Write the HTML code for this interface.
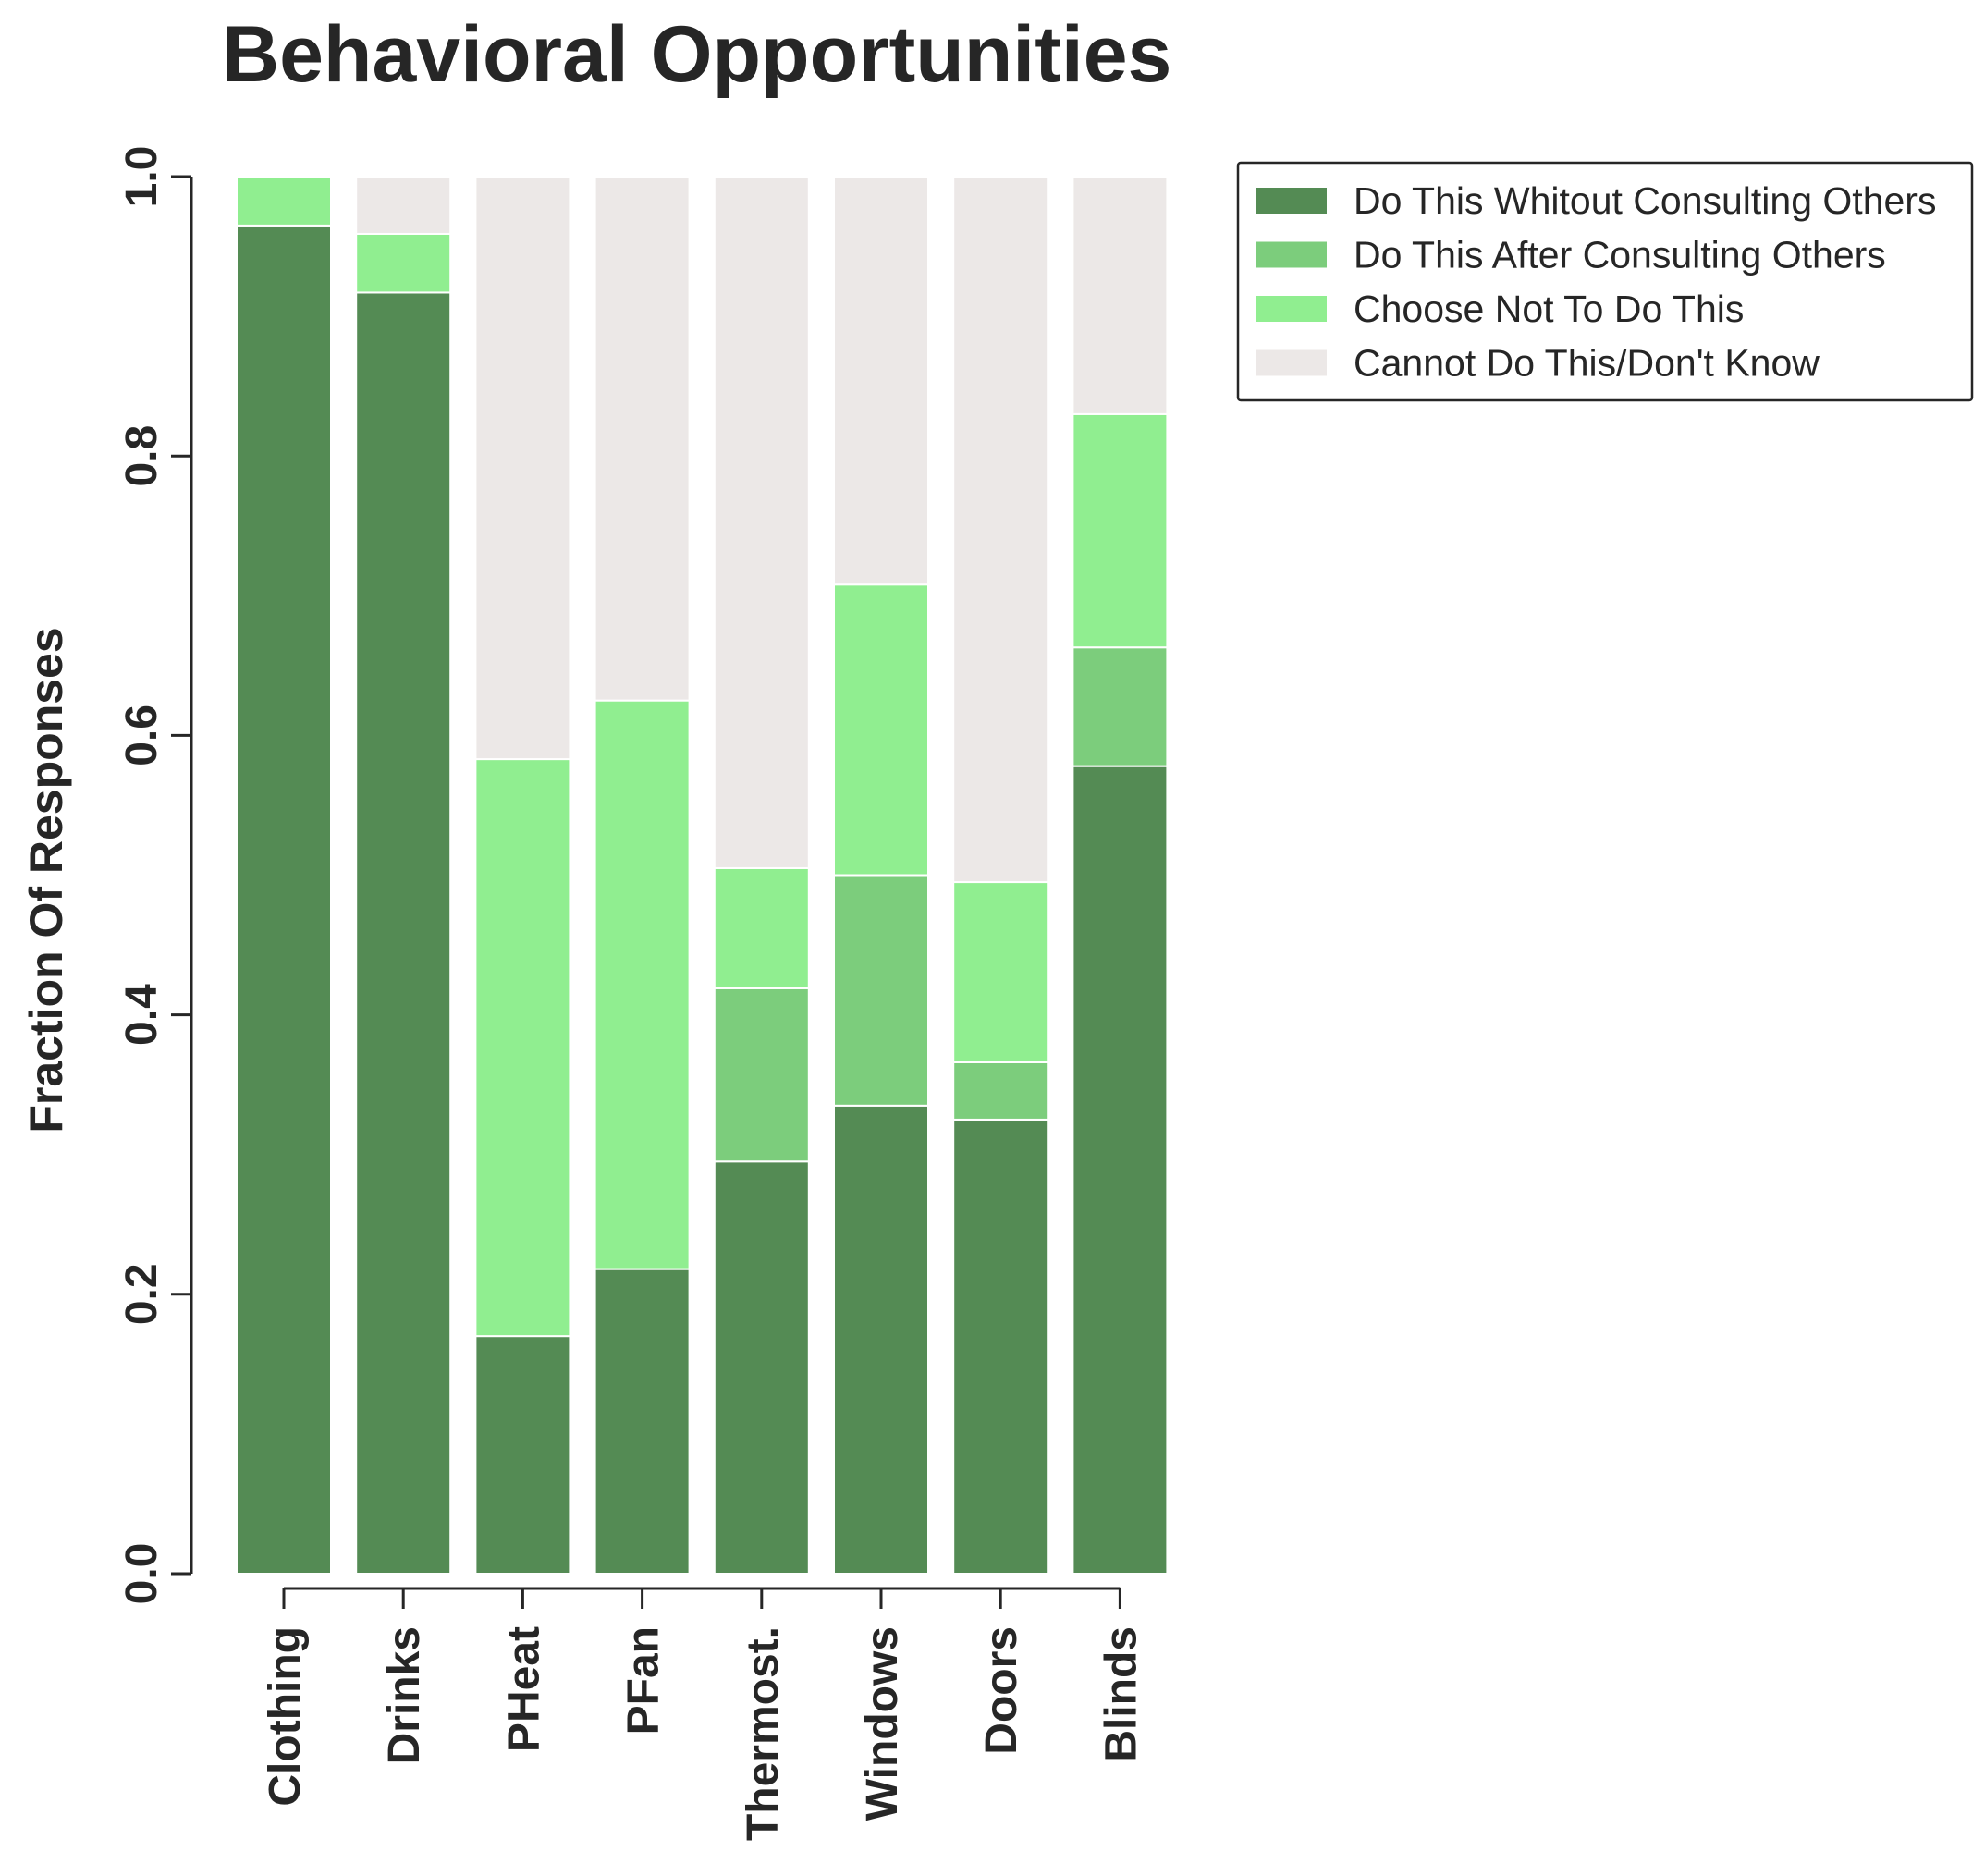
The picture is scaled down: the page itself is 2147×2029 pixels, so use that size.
<!DOCTYPE html>
<html><head><meta charset="utf-8"><style>
body{margin:0;background:#fff}
svg{display:block;font-family:"Liberation Sans","DejaVu Sans",sans-serif}
</style></head><body>
<svg id="chart" width="2147" height="2029" viewBox="0 0 2147 2029">
<text x="240" y="88" font-size="86" font-weight="bold" fill="#262626">Behavioral Opportunities</text>
<text transform="translate(67,952) rotate(-90)" text-anchor="middle" font-size="50" font-weight="bold" fill="#262626">Fraction Of Responses</text>
<g id="bars"></g>
<g id="axes"></g>
<g id="legend"></g>
</svg>
<script>
const categories = ["Clothing","Drinks","PHeat","PFan","Thermost.","Windows","Doors","Blinds"];
const withoutConsulting = [0.965,0.917,0.170,0.218,0.295,0.335,0.325,0.578];
const afterConsulting = [0,0,0,0,0.124,0.165,0.041,0.085];
const chooseNot = [0.035,0.042,0.413,0.407,0.086,0.208,0.129,0.167];
const seriesNames = ["Do This Whitout Consulting Others","Do This After Consulting Others","Choose Not To Do This","Cannot Do This/Don't Know"];
const yTicks = [0,0.2,0.4,0.6,0.8,1.0];
const cannot = categories.map((c,i)=>Math.max(0,1-withoutConsulting[i]-afterConsulting[i]-chooseNot[i]));
const colors = ["#548b54","#7ccd7c","#90ee90","#ece8e7"];
const NS="http://www.w3.org/2000/svg";
const y0=1702, y1=191, x0=307, pitch=129.2, bw=102;
const Y=v=>y0-(y0-y1)*v;
const X=i=>x0+pitch*i;
function mk(t,a,p){const e=document.createElementNS(NS,t);for(const k in a)e.setAttribute(k,a[k]);p.appendChild(e);return e;}
const bars=document.getElementById('bars');
const series=[withoutConsulting,afterConsulting,chooseNot,cannot];
categories.forEach((c,i)=>{
  let acc=0;
  series.forEach((s,k)=>{
    const v=s[i];
    if(v>0){
      const r=mk('rect',{x:X(i)-bw/2,y:Y(acc+v),width:bw,height:Y(acc)-Y(acc+v),fill:colors[k],stroke:'#fff','stroke-width':2},bars);
      
      
    }
    acc+=v;
  });
});
const ax=document.getElementById('axes');
mk('line',{x1:207,y1:y1,x2:207,y2:y0,stroke:'#262626','stroke-width':3},ax);
mk('line',{x1:X(0),y1:1718,x2:X(categories.length-1),y2:1718,stroke:'#262626','stroke-width':3},ax);
yTicks.forEach(t=>{
  mk('line',{x1:185,y1:Y(t),x2:207,y2:Y(t),stroke:'#262626','stroke-width':3},ax);
  const tx=mk('text',{transform:`translate(169,${Y(t)}) rotate(-90)`,'text-anchor':'middle','font-size':48,'font-weight':'bold',fill:'#262626'},ax);
  tx.textContent=t.toFixed(1);
  
  
});
categories.forEach((c,i)=>{
  mk('line',{x1:X(i),y1:1718,x2:X(i),y2:1740,stroke:'#262626','stroke-width':3},ax);
  const tx=mk('text',{transform:`translate(${X(i)+17},1759) rotate(-90)`,'text-anchor':'end','font-size':48,'font-weight':'bold',fill:'#262626'},ax);
  tx.textContent=c;
  
  
});
const lg=document.getElementById('legend');
mk('rect',{x:1339,y:176,width:794,height:257,fill:'#fff',stroke:'#262626','stroke-width':2.5,rx:3},lg);
seriesNames.forEach((n,k)=>{
  const yy=217+k*58.5;
  const p=mk('rect',{x:1358,y:yy-14,width:77,height:28,fill:colors[k]},lg);
  
  
  const t=mk('text',{x:1464,y:yy+14,'font-size':41,fill:'#262626'},lg);
  t.textContent=n;
  
  
});
</script>
</body></html>
